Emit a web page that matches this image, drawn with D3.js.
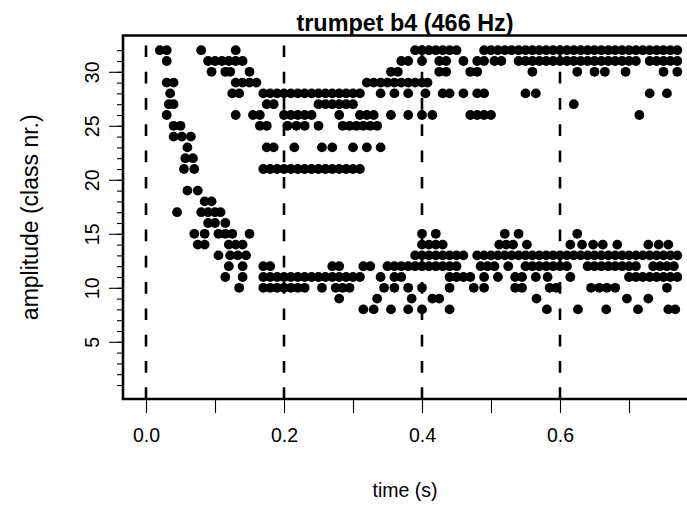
<!DOCTYPE html>
<html>
<head>
<meta charset="utf-8">
<script src="https://cdn.jsdelivr.net/npm/d3@7/dist/d3.min.js"></script>
<style>
  html, body { margin: 0; padding: 0; background: #fff; }
  svg { display: block; }
  text { font-family: "Liberation Sans", Arial, Helvetica, sans-serif; fill: #000; }
</style>
</head>
<body>
<svg id="chart" width="687" height="512"></svg>
<script>
// ---- data: time (ms) of each frame in which an amplitude class is present ----
const c32 = [20, 30, 80, 130, 390, 400, 410, 420, 430, 440, 450, 490, 500, 510, 520, 530, 540, 550, 560, 570, 580, 590, 600, 610, 620, 630, 640, 650, 660, 670, 680, 690, 700, 710, 720, 730, 740, 750, 760, 770];
const c31 = [30, 90, 100, 110, 120, 130, 140, 370, 380, 400, 425, 435, 460, 480, 490, 505, 515, 540, 550, 560, 570, 580, 590, 600, 610, 620, 630, 640, 650, 660, 670, 680, 690, 700, 710, 730, 740, 750, 760, 770];
const c30 = [95, 115, 122, 150, 355, 365, 425, 435, 470, 480, 560, 625, 650, 665, 695, 750, 770];
const c29 = [30, 40, 130, 140, 150, 160, 320, 330, 340, 350, 360, 370, 380, 390, 400, 408];
const c28 = [35, 125, 135, 170, 180, 190, 200, 210, 220, 230, 240, 250, 260, 270, 280, 290, 300, 310, 340, 360, 380, 405, 430, 440, 460, 480, 490, 550, 565, 730, 755];
const c27 = [33, 40, 175, 185, 250, 260, 270, 280, 290, 300, 620];
const c26 = [30, 130, 155, 165, 200, 210, 220, 230, 240, 280, 310, 320, 330, 355, 380, 400, 415, 470, 480, 490, 500, 715];
const c25 = [40, 50, 165, 175, 205, 218, 230, 250, 285, 295, 305, 315, 325, 335];
const c24 = [40, 52, 65];
const c23 = [60, 175, 185, 215, 255, 270, 300, 320, 340];
const c22 = [57, 68];
const c21 = [55, 70, 170, 180, 190, 200, 210, 220, 230, 240, 250, 260, 270, 280, 290, 300, 310];
const c19 = [60, 75];
const c18 = [85, 95];
const c17 = [45, 80, 90, 100, 108];
const c16 = [90, 100, 115];
const c15 = [70, 85, 105, 115, 125, 150, 400, 420, 520, 540, 625];
const c14 = [75, 85, 120, 130, 140, 400, 410, 420, 430, 512, 522, 532, 552, 615, 632, 648, 662, 683, 728, 743, 757];
const c13 = [105, 122, 133, 145, 390, 400, 410, 420, 430, 440, 450, 460, 480, 490, 500, 510, 520, 530, 540, 550, 560, 570, 580, 590, 600, 610, 620, 630, 640, 650, 660, 670, 680, 690, 700, 710, 720, 730, 740, 750, 760, 770];
const c12 = [120, 140, 170, 180, 270, 280, 315, 325, 350, 360, 370, 380, 390, 400, 410, 420, 430, 440, 450, 485, 495, 505, 525, 550, 560, 570, 580, 590, 600, 610, 640, 650, 660, 670, 680, 690, 700, 710, 735, 745, 755, 765];
const c11 = [115, 140, 170, 180, 190, 200, 210, 220, 230, 240, 250, 260, 270, 280, 290, 300, 310, 340, 360, 370, 440, 450, 460, 470, 490, 510, 535, 545, 565, 582, 615, 700, 710, 720, 730, 740, 750, 760, 770];
const c10 = [135, 170, 180, 190, 200, 210, 220, 230, 255, 275, 285, 295, 345, 360, 380, 400, 440, 475, 490, 535, 545, 585, 595, 645, 657, 668, 680, 755];
const c9  = [280, 335, 385, 415, 425, 566, 697, 728];
const c8  = [315, 330, 355, 380, 400, 440, 581, 626, 667, 713, 757, 767];

const classRows = [
  [32, c32], [31, c31], [30, c30], [29, c29], [28, c28], [27, c27], [26, c26],
  [25, c25], [24, c24], [23, c23], [22, c22], [21, c21], [19, c19], [18, c18],
  [17, c17], [16, c16], [15, c15], [14, c14], [13, c13], [12, c12], [11, c11],
  [10, c10], [9, c9], [8, c8]
];

const markerTimes = [0, 0.2, 0.4, 0.6];           // dashed vertical lines
const xTicks = [0, 0.1, 0.2, 0.3, 0.4, 0.5, 0.6, 0.7];
const xLabelTicks = [0, 0.2, 0.4, 0.6];
const yTicks = d3.range(1, 33);
const yLabelTicks = [5, 10, 15, 20, 25, 30];

const titleText = "trumpet b4 (466 Hz)";
const xTitle = "time (s)";
const yTitle = "amplitude (class nr.)";

// ---- layout ----
const plot = { left: 123, right: 687, top: 35.5, bottom: 399 };
const x = d3.scaleLinear().domain([0, 0.6]).range([146, 560]);
const y = d3.scaleLinear().domain([1, 32]).range([385, 50.2]);
const labelSize = 19.5, titleSize = 23.4, yTitleSize = 23;

const svg = d3.select("#chart");

const points = classRows.flatMap(([cls, times]) => times.map(t => ({ t: t / 1000, v: cls })));

// points
svg.append("g")
  .selectAll("circle")
  .data(points)
  .join("circle")
  .attr("cx", d => x(d.t))
  .attr("cy", d => y(d.v))
  .attr("r", 4.9)
  .attr("fill", "#000");

// dashed vertical lines (drawn from bottom up)
svg.append("g")
  .selectAll("line")
  .data(markerTimes)
  .join("line")
  .attr("x1", d => x(d)).attr("x2", d => x(d))
  .attr("y1", plot.bottom).attr("y2", plot.top)
  .attr("stroke", "#000")
  .attr("stroke-width", 2.6)
  .attr("stroke-dasharray", "11.7,14.6");

// x axis ticks and labels
const xAxis = d3.axisBottom(x)
  .tickValues(xTicks)
  .tickSize(14)
  .tickPadding(15)
  .tickFormat(d => xLabelTicks.some(v => Math.abs(v - d) < 1e-9) ? d3.format(".1f")(d) : "");
const gx = svg.append("g").attr("transform", `translate(0,${plot.bottom})`).call(xAxis);
gx.select(".domain").remove();
gx.selectAll(".tick line").attr("stroke", "#000").attr("stroke-width", 1.1);
gx.selectAll(".tick text")
  .attr("font-size", labelSize)
  .attr("font-family", "Liberation Sans, Arial, sans-serif")
  .attr("fill", "#000");

// y axis: minor ticks at every class, long ticks + labels every 5
const yMinor = d3.axisLeft(y).tickValues(yTicks).tickSize(6).tickFormat("");
const gy = svg.append("g").attr("transform", `translate(${plot.left},0)`).call(yMinor);
gy.select(".domain").remove();
gy.selectAll(".tick line").attr("stroke", "#000").attr("stroke-width", 1.1);

const yMajor = d3.axisLeft(y).tickValues(yLabelTicks).tickSize(14).tickFormat(d3.format("d"));
const gy2 = svg.append("g").attr("transform", `translate(${plot.left},0)`).call(yMajor);
gy2.select(".domain").remove();
gy2.selectAll(".tick line").attr("stroke", "#000").attr("stroke-width", 1.1);
gy2.selectAll(".tick text")
  .attr("font-size", labelSize)
  .attr("font-family", "Liberation Sans, Arial, sans-serif")
  .attr("fill", "#000")
  .attr("text-anchor", "middle")
  .attr("x", 0).attr("dy", 0).attr("y", 0)
  .attr("transform", "translate(-24,0) rotate(-90)");

// frame lines: left, bottom, top
svg.append("path")
  .attr("d", `M${plot.right},${plot.top} H${plot.left} V${plot.bottom} H${plot.right}`)
  .attr("fill", "none")
  .attr("stroke", "#000")
  .attr("stroke-width", 2.6);

// titles
svg.append("text")
  .attr("x", 405).attr("y", 31)
  .attr("text-anchor", "middle")
  .attr("font-size", titleSize)
  .attr("font-weight", "bold")
  .text(titleText);

svg.append("text")
  .attr("x", 405).attr("y", 497)
  .attr("text-anchor", "middle")
  .attr("font-size", labelSize)
  .text(xTitle);

svg.append("text")
  .attr("transform", `translate(38,${(plot.top + plot.bottom) / 2}) rotate(-90)`)
  .attr("text-anchor", "middle")
  .attr("font-size", yTitleSize)
  .text(yTitle);
</script>
</body>
</html>
